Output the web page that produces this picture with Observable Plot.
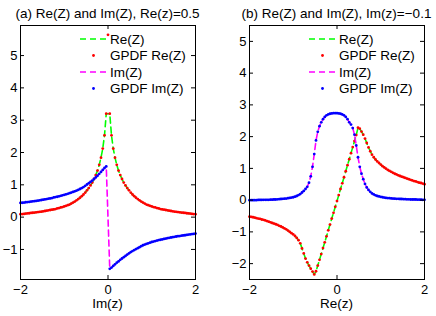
<!DOCTYPE html>
<html><head><meta charset="utf-8">
<script src="https://cdn.jsdelivr.net/npm/d3@7"></script>
<script src="https://cdn.jsdelivr.net/npm/@observablehq/plot@0.6"></script>
<style>
body{margin:0;background:#fff}
#wrap{position:relative;width:436px;height:316px;overflow:hidden}
#wrap > svg{position:absolute;top:0}
</style>
</head><body><div id="wrap"></div>
<script>
// x grid (step 0.04 from -2 to 2)
const xGrid = d3.range(101).map(i => +(-2 + 0.04 * i).toFixed(2));

// Panel (a): Re(z)=0.5, x = Im(z)
const reA = [0.09,0.095,0.10,0.11,0.115,0.12,0.13,0.135,0.14,0.15,
  0.155,0.165,0.17,0.18,0.19,0.20,0.21,0.22,0.23,0.24,
  0.25,0.27,0.28,0.30,0.31,0.33,0.35,0.37,0.39,0.42,
  0.45,0.48,0.52,0.56,0.60,0.65,0.70,0.76,0.83,0.90,
  0.98,1.07,1.18,1.30,1.44,1.62,1.84,2.12,2.53,3.20,
  5.64,
  3.20,2.53,2.12,1.84,1.62,1.44,1.30,1.18,1.07,0.98,
  0.90,0.83,0.76,0.70,0.65,0.60,0.56,0.52,0.48,0.45,
  0.42,0.39,0.37,0.35,0.33,0.31,0.30,0.28,0.27,0.25,
  0.24,0.23,0.22,0.21,0.20,0.19,0.18,0.17,0.165,0.155,
  0.15,0.14,0.135,0.13,0.12,0.115,0.11,0.10,0.095,0.09];
const imA = [0.44,0.445,0.45,0.46,0.465,0.47,0.48,0.49,0.495,0.50,
  0.51,0.52,0.53,0.54,0.55,0.56,0.57,0.58,0.59,0.61,
  0.62,0.63,0.645,0.66,0.675,0.69,0.705,0.72,0.74,0.76,
  0.78,0.80,0.82,0.845,0.87,0.90,0.93,0.97,1.01,1.05,
  1.09,1.13,1.18,1.23,1.28,1.34,1.40,1.46,1.52,1.57,
  null,
  -1.60,-1.56,-1.51,-1.46,-1.41,-1.37,-1.32,-1.28,-1.24,-1.20,
  -1.16,-1.12,-1.08,-1.05,-1.02,-0.99,-0.96,-0.93,-0.90,-0.87,
  -0.85,-0.83,-0.81,-0.79,-0.77,-0.755,-0.74,-0.725,-0.71,-0.70,
  -0.69,-0.675,-0.665,-0.65,-0.64,-0.63,-0.62,-0.61,-0.60,-0.59,
  -0.585,-0.575,-0.565,-0.56,-0.55,-0.54,-0.535,-0.525,-0.52,-0.51];

// Panel (b): Im(z)=-0.1, x = Re(z)
const reB = [-0.52,-0.53,-0.54,-0.55,-0.57,-0.58,-0.59,-0.61,-0.62,-0.64,
  -0.66,-0.68,-0.70,-0.72,-0.74,-0.76,-0.78,-0.81,-0.83,-0.86,
  -0.89,-0.92,-0.96,-1.00,-1.04,-1.08,-1.13,-1.19,-1.26,-1.36,
  -1.52,-1.68,-1.84,-1.96,-2.06,-2.16,-2.25,-2.34,-2.24,-2.06,
  -1.88,-1.70,-1.51,-1.33,-1.14,-0.95,-0.77,-0.58,-0.40,-0.21,
  -0.03,
  0.16,0.35,0.53,0.72,0.91,1.10,1.29,1.48,1.67,1.86,
  2.05,2.28,2.25,2.16,2.06,1.94,1.80,1.66,1.54,1.43,
  1.35,1.28,1.22,1.17,1.12,1.07,1.03,0.99,0.95,0.92,
  0.89,0.86,0.83,0.81,0.78,0.76,0.74,0.72,0.70,0.68,
  0.66,0.64,0.62,0.60,0.59,0.57,0.55,0.54,0.52,0.50];
const imB = [0,0,0,0,0,0.005,0.005,0.005,0.01,0.01,
  0.01,0.01,0.015,0.015,0.02,0.02,0.025,0.03,0.035,0.04,
  0.045,0.05,0.06,0.07,0.08,0.09,0.11,0.13,0.16,0.19,
  0.24,0.29,0.35,0.42,0.55,0.75,1.05,1.45,1.88,2.15,
  2.33,2.45,2.55,2.62,2.67,2.70,2.72,2.73,2.74,2.74,
  2.74,
  2.73,2.72,2.70,2.67,2.62,2.55,2.45,2.38,2.27,2.06,
  1.72,1.35,1.05,0.83,0.66,0.51,0.40,0.32,0.26,0.21,
  0.18,0.15,0.13,0.115,0.10,0.09,0.08,0.07,0.065,0.06,
  0.055,0.05,0.045,0.04,0.04,0.035,0.035,0.03,0.03,0.025,
  0.025,0.02,0.02,0.02,0.02,0.015,0.015,0.015,0.01,0.01];

const titles = ["(a) Re(Z) and Im(Z), Re(z)=0.5", "(b) Re(Z) and Im(Z), Im(z)=\u22120.1"];
const xLabels = ["Im(z)", "Re(z)"];
const legendLabels = ["Re(Z)", "GPDF Re(Z)", "Im(Z)", "GPDF Im(Z)"];
const xTicks = [-2, 0, 2];
const yTicksA = [-1, 0, 1, 2, 3, 4, 5];
const yTicksB = [-2, -1, 0, 1, 2, 3, 4, 5];

const GREEN = "#00ff00", RED = "#ff0000", MAGENTA = "#ff00ff", BLUE = "#0000ff";
const FONT = "'Liberation Sans', Arial, Helvetica, sans-serif";

function panel({re, im, yDomain, yTicks, title, xlabel, ml, mr, skipZeroInLines, legendX}) {
  const W = 218, H = 316, mt = 25, mb = 37;
  const pw = W - ml - mr, ph = H - mt - mb;
  const pts = xGrid.map((x, i) => ({x, re: re[i], im: im[i]}));
  const lineRe = pts.filter(d => d.re != null && !(skipZeroInLines && d.x === 0));
  const lineIm = pts.filter(d => d.im != null && !(skipZeroInLines && d.x === 0));
  const dash = "6,4";
  const svg = Plot.plot({
    width: W, height: H,
    marginLeft: ml, marginRight: mr, marginTop: mt, marginBottom: mb,
    style: {fontFamily: FONT, fontSize: "13px", background: "transparent", color: "#000", overflow: "visible"},
    x: {domain: [-2, 2]},
    y: {domain: yDomain},
    marks: [
      Plot.line(lineRe, {x: "x", y: "re", stroke: GREEN, strokeWidth: 1.6, strokeDasharray: dash}),
      Plot.dot(pts.filter(d => d.re != null), {x: "x", y: "re", r: 1.4, fill: RED, stroke: "none"}),
      Plot.line(lineIm, {x: "x", y: "im", stroke: MAGENTA, strokeWidth: 1.6, strokeDasharray: dash}),
      Plot.dot(pts.filter(d => d.im != null), {x: "x", y: "im", r: 1.4, fill: BLUE, stroke: "none"}),
      Plot.frame({stroke: "#000", strokeWidth: 1}),
      Plot.tickX(xTicks, {x: d => d, insetTop: ph - 4, stroke: "#000"}),
      Plot.tickX(xTicks, {x: d => d, insetBottom: ph - 4, stroke: "#000"}),
      Plot.tickY(yTicks, {y: d => d, insetRight: pw - 4, stroke: "#000"}),
      Plot.tickY(yTicks, {y: d => d, insetLeft: pw - 4, stroke: "#000"}),
      Plot.axisY({ticks: yTicks, tickSize: 0, tickPadding: 3, label: null, fontSize: 13, tickFormat: "d"}),
      Plot.axisX({ticks: xTicks, tickSize: 0, tickPadding: 5, label: null, fontSize: 13, tickFormat: "d"})
    ]
  });
  const root = d3.select(svg);
  // title and x label
  root.append("text").attr("x", ml + pw / 2).attr("y", 18).attr("text-anchor", "middle")
    .attr("font-family", FONT).attr("font-size", 13.5).attr("fill", "#000").text(title);
  root.append("text").attr("x", ml + pw / 2).attr("y", 307.5).attr("text-anchor", "middle")
    .attr("font-family", FONT).attr("font-size", 13.5).attr("fill", "#000").text(xlabel);
  // legend
  const g = root.append("g").attr("font-family", FONT).attr("font-size", 13.5).attr("text-anchor", "start");
  const rows = [39, 55.5, 72, 88.5];
  const x0 = legendX, x1 = legendX + 27, xm = legendX + 13.5;
  const styles = [
    {type: "line", color: GREEN}, {type: "dot", color: RED},
    {type: "line", color: MAGENTA}, {type: "dot", color: BLUE}
  ];
  styles.forEach((s, i) => {
    if (s.type === "line") {
      g.append("line").attr("x1", x0).attr("x2", x1).attr("y1", rows[i]).attr("y2", rows[i])
        .attr("stroke", s.color).attr("stroke-width", 1.6).attr("stroke-dasharray", dash);
    } else {
      g.append("circle").attr("cx", xm).attr("cy", rows[i]).attr("r", 1.4).attr("fill", s.color);
    }
    g.append("text").attr("x", x1 + 3).attr("y", rows[i] + 4.5).attr("fill", "#000").text(legendLabels[i]);
  });
  return svg;
}

const wrap = document.getElementById("wrap");
const a = panel({re: reA, im: imA, yDomain: [-1.93, 5.93], yTicks: yTicksA, title: titles[0], xlabel: xLabels[0],
  ml: 20, mr: 23, skipZeroInLines: true, legendX: 80});
a.style.left = "0px";
wrap.appendChild(a);
const b = panel({re: reB, im: imB, yDomain: [-2.5, 5.5], yTicks: yTicksB, title: titles[1], xlabel: xLabels[1],
  ml: 31, mr: 12, skipZeroInLines: false, legendX: 91});
b.style.left = "218px";
wrap.appendChild(b);
</script>
</body></html>
